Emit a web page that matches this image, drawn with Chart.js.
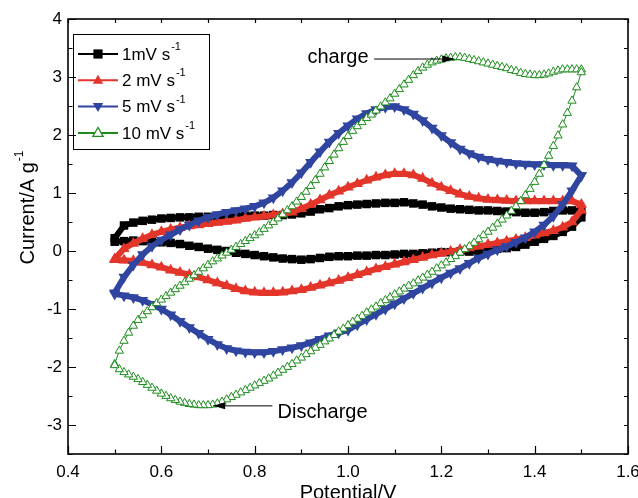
<!DOCTYPE html>
<html>
<head>
<meta charset="utf-8">
<title>Cyclic voltammetry at different scan rates</title>
<script src="https://cdn.jsdelivr.net/npm/chart.js"></script>
<style>
  html, body { margin: 0; padding: 0; background: #fff; }
</style>
</head>
<body>
<canvas id="cv" width="638" height="498"></canvas>
<script>
// potential grids (V): 20 mV steps for the slow scans, 10 mV for 10 mV/s
const potentialCoarse = [0.50, 0.52, 0.54, 0.56, 0.58, 0.60, 0.62, 0.64, 0.66, 0.68,
  0.70, 0.72, 0.74, 0.76, 0.78, 0.80, 0.82, 0.84, 0.86, 0.88,
  0.90, 0.92, 0.94, 0.96, 0.98, 1.00, 1.02, 1.04, 1.06, 1.08,
  1.10, 1.12, 1.14, 1.16, 1.18, 1.20, 1.22, 1.24, 1.26, 1.28,
  1.30, 1.32, 1.34, 1.36, 1.38, 1.40, 1.42, 1.44, 1.46, 1.48, 1.50];
const potentialFine = [0.50, 0.51, 0.52, 0.53, 0.54, 0.55, 0.56, 0.57, 0.58, 0.59,
  0.60, 0.61, 0.62, 0.63, 0.64, 0.65, 0.66, 0.67, 0.68, 0.69,
  0.70, 0.71, 0.72, 0.73, 0.74, 0.75, 0.76, 0.77, 0.78, 0.79,
  0.80, 0.81, 0.82, 0.83, 0.84, 0.85, 0.86, 0.87, 0.88, 0.89,
  0.90, 0.91, 0.92, 0.93, 0.94, 0.95, 0.96, 0.97, 0.98, 0.99,
  1.00, 1.01, 1.02, 1.03, 1.04, 1.05, 1.06, 1.07, 1.08, 1.09,
  1.10, 1.11, 1.12, 1.13, 1.14, 1.15, 1.16, 1.17, 1.18, 1.19,
  1.20, 1.21, 1.22, 1.23, 1.24, 1.25, 1.26, 1.27, 1.28, 1.29,
  1.30, 1.31, 1.32, 1.33, 1.34, 1.35, 1.36, 1.37, 1.38, 1.39,
  1.40, 1.41, 1.42, 1.43, 1.44, 1.45, 1.46, 1.47, 1.48, 1.49, 1.50];

// current (A/g), anodic sweep and cathodic sweep, both listed by rising potential
const charge1 = [0.22, 0.44, 0.49, 0.52, 0.54, 0.56, 0.57, 0.58, 0.58, 0.59,
  0.59, 0.60, 0.60, 0.60, 0.61, 0.61, 0.61, 0.62, 0.62, 0.63,
  0.65, 0.68, 0.72, 0.74, 0.77, 0.79, 0.80, 0.81, 0.82, 0.83,
  0.83, 0.84, 0.82, 0.80, 0.77, 0.75, 0.73, 0.72, 0.71, 0.70,
  0.70, 0.69, 0.68, 0.67, 0.66, 0.66, 0.67, 0.69, 0.70, 0.70, 0.68];
const discharge1 = [0.16, 0.17, 0.18, 0.17, 0.16, 0.15, 0.14, 0.12, 0.09, 0.07,
  0.04, 0.02, 0.00, -0.03, -0.05, -0.07, -0.09, -0.11, -0.13, -0.14,
  -0.15, -0.14, -0.12, -0.10, -0.09, -0.09, -0.08, -0.08, -0.07, -0.07,
  -0.06, -0.05, -0.05, -0.04, -0.03, -0.02, -0.02, -0.01, -0.01, 0.00,
  0.02, 0.04, 0.05, 0.07, 0.11, 0.16, 0.21, 0.26, 0.33, 0.42, 0.58];

const charge2 = [-0.14, 0.04, 0.13, 0.21, 0.28, 0.33, 0.37, 0.40, 0.43, 0.45,
  0.47, 0.49, 0.51, 0.53, 0.56, 0.58, 0.60, 0.62, 0.64, 0.67,
  0.73, 0.80, 0.88, 0.96, 1.03, 1.10, 1.16, 1.22, 1.27, 1.31,
  1.33, 1.33, 1.31, 1.25, 1.17, 1.10, 1.04, 0.98, 0.94, 0.91,
  0.89, 0.88, 0.87, 0.86, 0.86, 0.86, 0.86, 0.86, 0.86, 0.86, 0.80];
const discharge2 = [-0.15, -0.16, -0.17, -0.20, -0.24, -0.28, -0.33, -0.37, -0.41, -0.45,
  -0.50, -0.55, -0.60, -0.65, -0.69, -0.71, -0.72, -0.72, -0.71, -0.69,
  -0.67, -0.63, -0.59, -0.55, -0.51, -0.46, -0.41, -0.36, -0.31, -0.27,
  -0.23, -0.19, -0.15, -0.11, -0.07, -0.04, -0.01, 0.02, 0.05, 0.08,
  0.11, 0.14, 0.17, 0.20, 0.23, 0.27, 0.31, 0.35, 0.41, 0.50, 0.70];

const charge5 = [-0.72, -0.45, -0.24, -0.06, 0.08, 0.19, 0.28, 0.37, 0.45, 0.52,
  0.58, 0.63, 0.67, 0.70, 0.73, 0.77, 0.83, 0.92, 1.04, 1.18,
  1.35, 1.53, 1.71, 1.88, 2.03, 2.16, 2.28, 2.37, 2.44, 2.48,
  2.49, 2.44, 2.36, 2.25, 2.12, 1.99, 1.87, 1.76, 1.68, 1.62,
  1.58, 1.55, 1.53, 1.51, 1.50, 1.49, 1.49, 1.48, 1.48, 1.47, 1.30];
const discharge5 = [-0.74, -0.77, -0.80, -0.85, -0.92, -1.00, -1.10, -1.21, -1.32, -1.42,
  -1.52, -1.61, -1.68, -1.72, -1.74, -1.75, -1.75, -1.73, -1.70, -1.67,
  -1.63, -1.58, -1.52, -1.46, -1.41, -1.36, -1.27, -1.18, -1.09, -1.00,
  -0.91, -0.82, -0.73, -0.64, -0.55, -0.46, -0.38, -0.30, -0.21, -0.12,
  -0.05, 0.02, 0.08, 0.15, 0.23, 0.33, 0.45, 0.60, 0.80, 1.04, 1.30];

const charge10 = [-1.95, -1.72, -1.55, -1.41, -1.29, -1.19, -1.11, -1.04, -0.97, -0.90,
  -0.84, -0.78, -0.72, -0.66, -0.60, -0.54, -0.48, -0.42, -0.36, -0.30,
  -0.24, -0.18, -0.13, -0.08, -0.03, 0.02, 0.07, 0.12, 0.17, 0.22,
  0.27, 0.32, 0.38, 0.44, 0.50, 0.56, 0.63, 0.70, 0.77, 0.85,
  0.93, 1.02, 1.12, 1.22, 1.33, 1.44, 1.55, 1.66, 1.77, 1.88,
  1.98, 2.07, 2.15, 2.22, 2.29, 2.35, 2.42, 2.49, 2.56, 2.63,
  2.71, 2.79, 2.87, 2.95, 3.03, 3.10, 3.16, 3.21, 3.25, 3.28,
  3.30, 3.32, 3.33, 3.34, 3.34, 3.33, 3.31, 3.29, 3.27, 3.25,
  3.23, 3.21, 3.19, 3.17, 3.15, 3.12, 3.10, 3.07, 3.05, 3.04,
  3.03, 3.03, 3.04, 3.06, 3.09, 3.11, 3.13, 3.13, 3.13, 3.13, 3.13];
const discharge10 = [-1.97, -2.04, -2.09, -2.13, -2.17, -2.21, -2.26, -2.31, -2.36, -2.41,
  -2.46, -2.50, -2.54, -2.57, -2.60, -2.62, -2.64, -2.65, -2.66, -2.66,
  -2.66, -2.65, -2.63, -2.60, -2.56, -2.52, -2.48, -2.44, -2.40, -2.36,
  -2.32, -2.28, -2.24, -2.20, -2.15, -2.10, -2.05, -2.00, -1.95, -1.89,
  -1.84, -1.78, -1.73, -1.67, -1.62, -1.56, -1.51, -1.45, -1.39, -1.34,
  -1.28, -1.22, -1.17, -1.12, -1.06, -1.01, -0.96, -0.90, -0.85, -0.80,
  -0.75, -0.70, -0.65, -0.60, -0.56, -0.51, -0.46, -0.41, -0.36, -0.30,
  -0.25, -0.20, -0.14, -0.09, -0.03, 0.03, 0.08, 0.14, 0.20, 0.27,
  0.33, 0.40, 0.47, 0.54, 0.61, 0.69, 0.77, 0.86, 0.96, 1.07,
  1.19, 1.33, 1.48, 1.64, 1.81, 1.99, 2.18, 2.38, 2.59, 2.82, 3.08];

const rateLabels = ['1mV s', '2 mV s', '5 mV s', '10 mV s'];
const xTicks = [0.4, 0.6, 0.8, 1.0, 1.2, 1.4, 1.6];
const yTicks = [-3, -2, -1, 0, 1, 2, 3, 4];

// arrow annotations, in data units: label anchor, arrow tail, arrow tip
const noteCharge = { text: 'charge', at: [0.913, 3.33], tail: [1.056, 3.31], tip: [1.228, 3.31] };
const noteDischarge = { text: 'Discharge', at: [0.849, -2.78], tail: [0.838, -2.67], tip: [0.711, -2.67] };

const FONT = '"Liberation Sans", Arial, Helvetica, sans-serif';

function loop(pot, up, down) {
  const pts = pot.map((v, i) => ({ x: v, y: up[i] }));
  for (let i = pot.length - 1; i >= 0; i--) pts.push({ x: pot[i], y: down[i] });
  return pts;
}

function marker(ctx, style, x, y, r, fill, stroke, lw) {
  ctx.beginPath();
  if (style === 'rect') {
    const s = r * Math.SQRT1_2;
    ctx.rect(x - s, y - s, 2 * s, 2 * s);
  } else {
    const dir = style === 'down' ? -1 : 1;
    ctx.moveTo(x, y - dir * r);
    ctx.lineTo(x + r * 0.866, y + dir * r * 0.5);
    ctx.lineTo(x - r * 0.866, y + dir * r * 0.5);
    ctx.closePath();
  }
  ctx.fillStyle = fill;
  ctx.fill();
  if (stroke) { ctx.strokeStyle = stroke; ctx.lineWidth = lw; ctx.stroke(); }
}

const series = [
  { label: rateLabels[0], color: '#000000', style: 'rect', data: loop(potentialCoarse, charge1, discharge1) },
  { label: rateLabels[1], color: '#e3352a', style: 'up', data: loop(potentialCoarse, charge2, discharge2) },
  { label: rateLabels[2], color: '#2f45a0', style: 'down', data: loop(potentialCoarse, charge5, discharge5) },
  { label: rateLabels[3], color: '#1d8c1d', style: 'hollow', data: loop(potentialFine, charge10, discharge10) }
];

const datasets = series.map((s, i) => {
  const hollow = s.style === 'hollow';
  return {
    label: s.label,
    data: s.data,
    showLine: true,
    tension: 0,
    order: 4 - i,
    borderColor: s.color,
    borderWidth: hollow ? 1 : 6,
    pointStyle: s.style === 'rect' ? 'rect' : 'triangle',
    rotation: s.style === 'down' ? 180 : 0,
    pointRadius: hollow ? 4.8 : (s.style === 'rect' ? 6 : 6.5),
    pointBackgroundColor: hollow ? '#ffffff' : s.color,
    pointBorderColor: s.color,
    pointBorderWidth: hollow ? 1 : 0
  };
});

const decorations = {
  id: 'decorations',
  afterDraw(chart) {
    const { ctx, chartArea: a, scales: { x, y } } = chart;
    ctx.save();

    // frame and inward ticks
    ctx.strokeStyle = '#000';
    ctx.lineWidth = 1.6;
    ctx.strokeRect(a.left, a.top, a.right - a.left, a.bottom - a.top);
    ctx.lineWidth = 1.2;
    ctx.beginPath();
    for (let i = 0; i <= 12; i++) {
      const px = Math.round(x.getPixelForValue(0.4 + i * 0.1)) + 0.5;
      const len = i % 2 === 0 ? 8 : 4.5;
      ctx.moveTo(px, a.bottom); ctx.lineTo(px, a.bottom - len);
      ctx.moveTo(px, a.top); ctx.lineTo(px, a.top + 4);
    }
    for (let i = 0; i <= 15; i++) {
      const v = -3.5 + i * 0.5;
      const py = Math.round(y.getPixelForValue(v)) + 0.5;
      const len = Number.isInteger(v) ? 8 : 4.5;
      ctx.moveTo(a.left, py); ctx.lineTo(a.left + len, py);
      ctx.moveTo(a.right, py); ctx.lineTo(a.right - 4, py);
    }
    ctx.stroke();

    // axis titles
    ctx.fillStyle = '#000';
    ctx.textBaseline = 'middle';
    ctx.textAlign = 'center';
    ctx.font = '20px ' + FONT;
    ctx.fillText('Potential/V', (a.left + a.right) / 2, 493);

    ctx.save();
    ctx.translate(28, 208);
    ctx.rotate(-Math.PI / 2);
    ctx.font = '20px ' + FONT;
    const main = 'Current/A g';
    const wMain = ctx.measureText(main).width;
    ctx.font = '12px ' + FONT;
    const wSup = ctx.measureText('-1').width;
    const x0 = -(wMain + wSup) / 2;
    ctx.textAlign = 'left';
    ctx.font = '20px ' + FONT;
    ctx.fillText(main, x0, 0);
    ctx.font = '12px ' + FONT;
    ctx.fillText('-1', x0 + wMain + 1, -8);
    ctx.restore();

    // legend
    const box = { l: 73, t: 34, r: 209, b: 149 };
    ctx.lineWidth = 1;
    ctx.strokeStyle = '#000';
    ctx.strokeRect(box.l + 0.5, box.t + 0.5, box.r - box.l, box.b - box.t);
    series.forEach((s, i) => {
      const yy = 54 + i * 26.3;
      ctx.strokeStyle = s.color;
      ctx.lineWidth = 2;
      ctx.beginPath();
      ctx.moveTo(78, yy); ctx.lineTo(118, yy);
      ctx.stroke();
      if (s.style === 'hollow') marker(ctx, 'up', 98, yy + 0.5, 6, '#fff', s.color, 1.2);
      else marker(ctx, s.style, 98, yy + (s.style === 'up' ? 0.5 : s.style === 'down' ? -0.5 : 0), s.style === 'rect' ? 6.5 : 6, s.color);
      ctx.fillStyle = '#000';
      ctx.textAlign = 'left';
      ctx.font = '17px ' + FONT;
      ctx.fillText(s.label, 122, yy + 1);
      const w = ctx.measureText(s.label).width;
      ctx.font = '11px ' + FONT;
      ctx.fillText('-1', 122 + w + 1, yy - 7);
    });

    // arrow annotations
    ctx.lineWidth = 1;
    ctx.strokeStyle = '#000';
    ctx.fillStyle = '#000';
    [noteCharge, noteDischarge].forEach(n => {
      const tx = x.getPixelForValue(n.tail[0]), ty = y.getPixelForValue(n.tail[1]);
      const hx = x.getPixelForValue(n.tip[0]), hy = y.getPixelForValue(n.tip[1]);
      ctx.beginPath();
      ctx.moveTo(tx, ty); ctx.lineTo(hx, hy);
      ctx.stroke();
      const ang = Math.atan2(hy - ty, hx - tx);
      ctx.beginPath();
      ctx.moveTo(hx, hy);
      ctx.lineTo(hx - 12 * Math.cos(ang) + 3.5 * Math.sin(ang), hy - 12 * Math.sin(ang) - 3.5 * Math.cos(ang));
      ctx.lineTo(hx - 12 * Math.cos(ang) - 3.5 * Math.sin(ang), hy - 12 * Math.sin(ang) + 3.5 * Math.cos(ang));
      ctx.closePath();
      ctx.fill();
      ctx.font = '20px ' + FONT;
      ctx.textAlign = 'left';
      ctx.textBaseline = 'middle';
      ctx.fillText(n.text, x.getPixelForValue(n.at[0]), y.getPixelForValue(n.at[1]));
    });

    ctx.restore();
  }
};

new Chart(document.getElementById('cv'), {
  type: 'scatter',
  data: { datasets: datasets },
  options: {
    responsive: false,
    animation: false,
    layout: { padding: { top: 19, right: 10, left: 0, bottom: 0 } },
    plugins: { legend: { display: false }, tooltip: { enabled: false } },
    scales: {
      x: {
        type: 'linear',
        min: 0.4,
        max: 1.6,
        grid: { display: false, drawTicks: false },
        border: { display: false },
        afterFit: s => { s.height = 44; s.paddingLeft = 0; s.paddingRight = 0; },
        afterBuildTicks: s => { s.ticks = xTicks.map(v => ({ value: v })); },
        ticks: {
          padding: 8,
          maxRotation: 0,
          color: '#000',
          font: { family: FONT, size: 17 },
          callback: v => Number(v).toFixed(1)
        }
      },
      y: {
        type: 'linear',
        min: -3.5,
        max: 4,
        grid: { display: false, drawTicks: false },
        border: { display: false },
        afterFit: s => { s.width = 68; s.paddingTop = 0; s.paddingBottom = 0; },
        afterBuildTicks: s => { s.ticks = yTicks.map(v => ({ value: v })); },
        ticks: {
          padding: 6,
          color: '#000',
          font: { family: FONT, size: 17 },
          callback: v => String(v)
        }
      }
    }
  },
  plugins: [decorations]
});
</script>
</body>
</html>
